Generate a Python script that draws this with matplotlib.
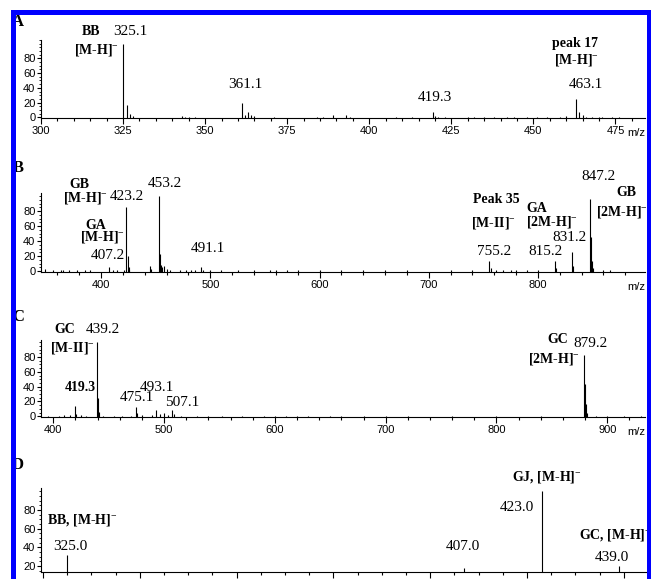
import numpy as np
import matplotlib
matplotlib.use("Agg")
import matplotlib.pyplot as plt
from matplotlib.patches import Rectangle
from matplotlib.ticker import MultipleLocator, FixedLocator

plt.rcParams["mathtext.fontset"] = "custom"
plt.rcParams["mathtext.rm"] = "Liberation Serif"
plt.rcParams["mathtext.it"] = "Liberation Serif:italic"
plt.rcParams["mathtext.bf"] = "Liberation Serif:bold"

# ---- spectrum data (m/z, relative intensity) ----
mz_a = [325.1, 326.1, 327.1, 328.1, 343, 344, 345, 347, 361.1, 362, 363, 364, 365, 371,
        384, 386, 389, 393, 394, 408, 413, 419.3, 420, 421, 423, 430, 432, 435, 438,
        442, 444, 448, 451, 454, 458, 460, 463.1, 464, 465, 466, 468, 470, 471, 474, 476]
int_a = [100, 17, 5, 2, 1.5, 1, 1, 1, 20, 3, 7, 3, 2, 1,
         1, 1, 2.5, 3, 1, 1, 1, 7, 2, 1, 1, 1, 1, 1, 1,
         1, 1, 1, 1, 1, 1, 1.5, 25, 7, 3, 1, 1, 1, 1, 1, 1]

mz_b = [349, 356, 363, 365, 371, 378, 385, 390, 407.2, 411, 415, 421, 423.2, 424.2, 425.2,
        426, 445, 446, 453.2, 454.2, 455.2, 456, 458, 460, 463, 472, 478, 482, 486, 491.1,
        493, 500, 510, 525, 540, 555, 560, 570, 580, 600, 620, 640, 660, 680, 720, 740,
        755.2, 757, 762, 768, 775, 780, 790, 800, 815.2, 816.2, 831.2, 832.2, 847.2, 848.2,
        849.2, 850.2, 860, 866]
int_b = [3, 1, 2, 1, 1, 1.5, 1, 1, 5, 1, 1, 2, 85, 20, 6,
         2, 7, 3, 100, 23, 8, 6, 7, 3, 2, 2, 1.5, 2, 1.5, 6,
         2, 1, 1, 1, 1, 1, 1, 1, 1, 1, 1, 1, 1, 1, 1, 2,
         13, 4, 2, 1.5, 1.5, 1.5, 1, 1, 14, 4, 25, 7, 96, 46,
         14, 4, 1.5, 1]

mz_c = [395, 405, 410, 415, 419.3, 421, 425, 430, 439.2, 440.2, 441.2, 445, 455, 462, 470,
        475.1, 476, 480, 489, 493.1, 496, 500, 504, 507.1, 509, 515, 530, 540, 552, 570,
        590, 600, 610, 620, 630, 650, 660, 680, 700, 720, 760, 800, 840, 879.2, 880.2,
        881.2, 882, 890, 900, 915, 930]
int_c = [1, 1, 2, 2, 14, 3, 2, 1, 100, 24, 6, 1, 1, 1, 1,
         12, 4, 2, 2, 9, 3, 4, 2, 9, 3, 1, 1, 1, 1, 1,
         1, 1, 1, 1, 1, 1, 1, 1, 1, 1, 1, 1, 1, 83, 44,
         16, 4, 1, 1, 1, 1]

mz_d = [325.0, 407.0, 423.0, 439.0]
int_d = [32, 18, 100, 20]

SUP = r"$^{-}$"
M = "[M-H]" + SUP
M2 = "[2M-H]" + SUP
MII = "[M-II]" + SUP

# (text, x, y, bold)
labels_a = [("BB", 315.2, 116, True), ("325.1", 327.1, 116, False), (M, 316.8, 92, True),
            ("361.1", 362.2, 44.6, False), ("419.3", 420.1, 27, False),
            ("463.1", 465.9, 44.6, False), ("peak 17", 462.8, 100, True), (M, 463.1, 78, True)]
labels_b = [("GB", 380, 115, True), (M, 386, 97, True), ("423.2", 423.3, 98.7, False),
            ("453.2", 458.4, 116, False), ("GA", 394.8, 60.5, True), (M, 401.2, 46, True),
            ("407.2", 405.8, 21, False), ("491.1", 498, 30, False),
            ("Peak 35", 761.6, 94.7, True), (MII, 758.8, 64.5, True), ("GA", 798.5, 84, True),
            (M2, 813, 66, True), ("847.2", 855.6, 126, False), ("GB", 880.5, 104, True),
            (M2, 876.8, 79, True), ("831.2", 829, 44.7, False), ("755.2", 759.7, 26.3, False),
            ("815.2", 806.8, 26.3, False)]
labels_c = [("GC", 410.7, 117, True), ("439.2", 445, 117, False), (MII, 417, 92, True),
            ("419.3", 424.2, 38.7, True), ("475.1", 475.6, 25, False),
            ("493.1", 493.7, 38.7, False), ("507.1", 516.3, 18.7, False),
            ("GC", 855.6, 104, True), ("879.2", 884.5, 98.7, False), (M2, 852, 77.3, True)]
labels_d = [("BB, " + M, 328.1, 69.3, True), ("325.0", 325.6, 40.4, False),
            ("GJ, " + M, 424.1, 115.4, True), ("423.0", 417.9, 83.2, False),
            ("407.0", 406.7, 40.4, False), ("GC, " + M, 438.2, 53.2, True),
            ("439.0", 437.6, 29.6, False)]

W, H = 651, 579
fig = plt.figure(figsize=(W / 100, H / 100), dpi=100)
fig.patch.set_facecolor("white")

SERIF = ["Liberation Serif", "DejaVu Serif"]
SANS = ["Liberation Sans", "DejaVu Sans"]


def px_axes(left, top, right, bottom):
    return fig.add_axes([left / W, 1 - bottom / H, (right - left) / W, (bottom - top) / H])


panels = [
    # axes box px, xlim, ylim, major x, minor x, yticks, data, labels, letter, letter y px
    ((41, 40, 645, 118), (300, 484), (-1, 105), 25, 5, [0, 20, 40, 60, 80], mz_a, int_a, labels_a, "A", 22),
    ((41, 193, 645, 272), (345, 898), (-1, 104), 100, 20, [0, 20, 40, 60, 80], mz_b, int_b, labels_b, "B", 168),
    ((41, 340, 645, 417), (389, 934), (-1, 103), 100, 20, [0, 20, 40, 60, 80], mz_c, int_c, labels_c, "C", 317),
    ((41, 488, 648, 572), (319.6, 445), (13.6, 103.6), 20, 5, [20, 40, 60, 80], mz_d, int_d, labels_d, "D", 465),
]

for box, xlim, ylim, xmaj, xmin, yt, mz, inten, labs, letter, ly in panels:
    ax = px_axes(*box)
    ax.vlines(mz, ylim[0], inten, color="black", lw=0.8)
    ax.set_xlim(*xlim)
    ax.set_ylim(*ylim)
    for s in ("top", "right"):
        ax.spines[s].set_visible(False)
    for s in ("left", "bottom"):
        ax.spines[s].set_linewidth(0.8)
    ax.xaxis.set_major_locator(MultipleLocator(xmaj))
    ax.xaxis.set_minor_locator(MultipleLocator(xmin))
    ax.yaxis.set_major_locator(FixedLocator(yt))
    ax.yaxis.set_minor_locator(MultipleLocator(5))
    ax.tick_params(axis="x", which="major", length=4, width=0.8, pad=2, labelsize=8)
    ax.tick_params(axis="x", which="minor", length=2.5, width=0.8)
    ax.tick_params(axis="y", which="major", length=3, width=0.8, pad=1, labelsize=8)
    ax.tick_params(axis="y", which="minor", length=1.5, width=0.6)
    for t in ax.get_xticklabels() + ax.get_yticklabels():
        t.set_family(SANS)
    ax.annotate("m/z", xy=(1, 0), xycoords="axes fraction", xytext=(0, -7.5),
                textcoords="offset points", ha="right", va="top", fontsize=8, family=SANS)
    for txt, x, y, bold in labs:
        ax.text(x, y, txt, ha="center", va="center", family=SERIF,
                fontsize=10 if bold else 11, fontweight="bold" if bold else "normal",
                clip_on=False)
    fig.text(18 / W, 1 - ly / H, letter, ha="center", va="center", family=SERIF,
             fontsize=12, fontweight="bold")

# blue frame around the figure
fig.patches.append(Rectangle((12.5 / W, -0.1), (649 - 12.5) / W, 1.1 - 12.5 / H,
                             transform=fig.transFigure, fill=False, edgecolor="#0000ff",
                             lw=3.6, zorder=5))

fig.savefig("out.png", dpi=100)
